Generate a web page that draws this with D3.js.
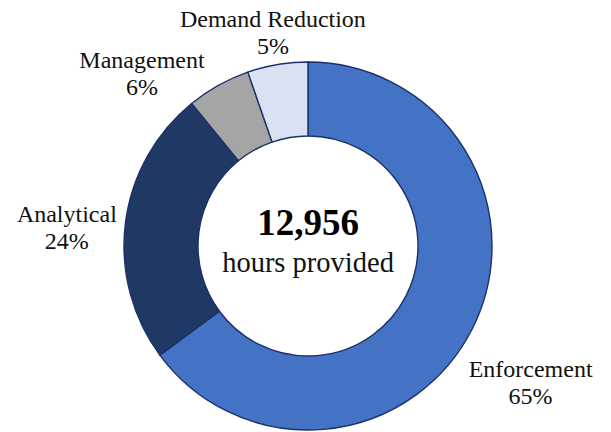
<!DOCTYPE html>
<html>
<head>
<meta charset="utf-8">
<script src="https://cdn.jsdelivr.net/npm/d3@7"></script>
<style>
  body { margin: 0; background: #fff; }
  svg { display: block; }
</style>
</head>
<body>
<div id="chart"></div>
<script>
// slices, clockwise from 12 o'clock
const categories = ["Enforcement", "Analytical", "Management", "Demand Reduction"];
const shares = [64.9, 24.2, 5.6, 5.3];
const colors = ["#4472C4", "#203864", "#A5A5A5", "#D9E2F3"];
const totalHours = "12,956";
const centerCaption = "hours provided";

// label offsets from the default radial spot (Excel-style placement)
const labelNudge = [[12, 31], [-7, 12], [-51, 34], [4, 20]];

const width = 611, height = 432;
const cx = 308, cy = 246;
const outerR = 184, innerR = 110, labelR = 236;

const svg = d3.select("#chart")
              .append("svg")
              .attr("width", width)
              .attr("height", height)
              .attr("font-family", "'Liberation Serif', 'Times New Roman', serif");

const g = svg.append("g")
             .attr("transform", `translate(${cx},${cy})`);

const pie = d3.pie().sort(null).value(d => d.value);
const data = pie(categories.map((c, i) => ({name: c, value: shares[i], color: colors[i]})));

const arc = d3.arc().innerRadius(innerR).outerRadius(outerR);
const labelArc = d3.arc().innerRadius(labelR).outerRadius(labelR);

g.selectAll("path")
 .data(data)
 .enter().append("path")
 .attr("d", arc)
 .attr("fill", d => d.data.color)
 .attr("stroke", "#1B3168")
 .attr("stroke-width", 1.4)
 .attr("stroke-linejoin", "round");

const labels = g.selectAll(".label")
                .data(data)
                .enter().append("text")
                .attr("class", "label")
                .attr("text-anchor", "middle")
                .attr("font-size", 24)
                .attr("fill", "#111")
                .attr("transform", (d, i) => {
                    const [x, y] = labelArc.centroid(d);
                    return `translate(${x + labelNudge[i][0]},${y + labelNudge[i][1]})`;
                });

labels.append("tspan")
      .attr("x", 0)
      .attr("y", -6)
      .text(d => d.data.name);

labels.append("tspan")
      .attr("x", 0)
      .attr("y", 21)
      .text(d => Math.round(d.data.value) + "%");

g.append("text")
 .attr("text-anchor", "middle")
 .attr("y", -11)
 .attr("font-size", 37)
 .attr("font-weight", "bold")
 .attr("fill", "#000")
 .text(totalHours);

g.append("text")
 .attr("text-anchor", "middle")
 .attr("y", 26)
 .attr("font-size", 28.5)
 .attr("fill", "#111")
 .text(centerCaption);
</script>
</body>
</html>
